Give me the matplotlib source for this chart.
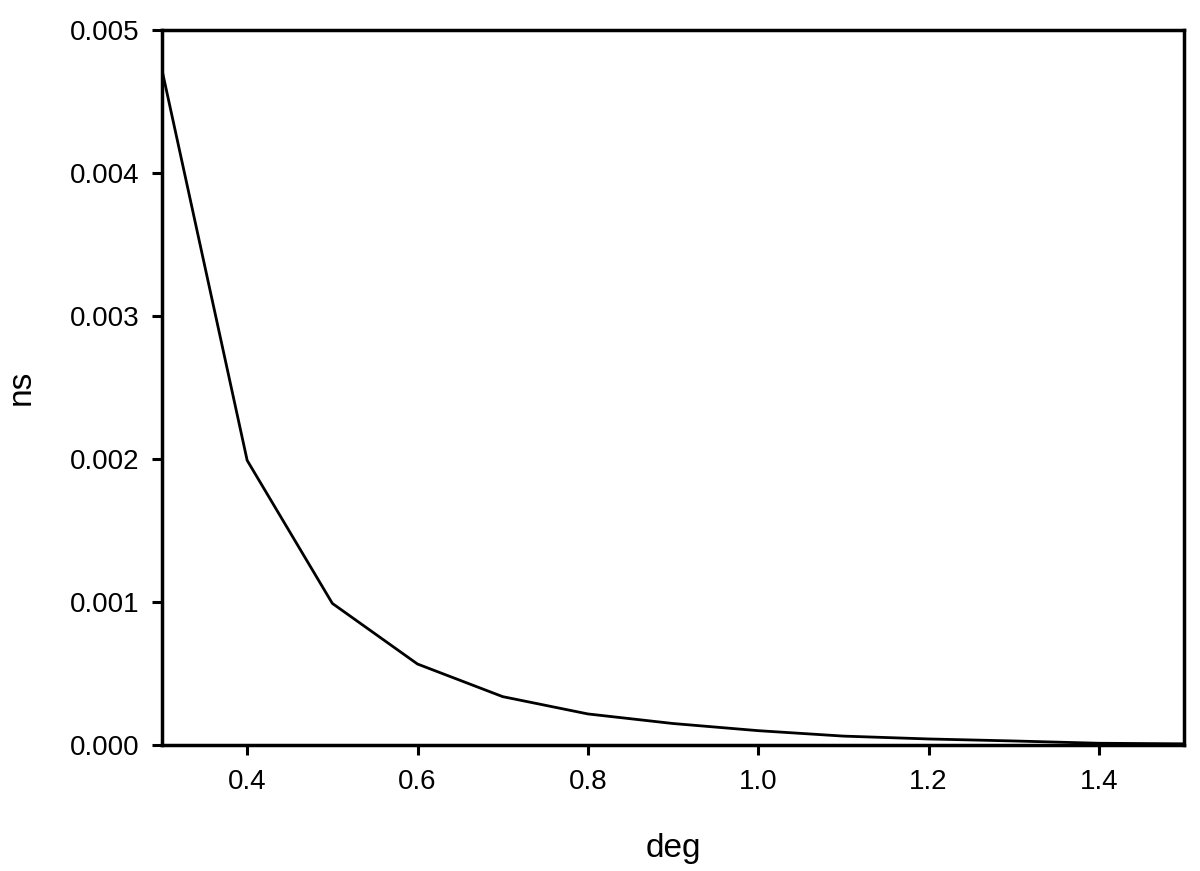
import matplotlib
matplotlib.use("Agg")
import matplotlib.pyplot as plt

# values
deg = [0.3, 0.4, 0.5, 0.6, 0.7, 0.8, 0.9, 1.0, 1.1, 1.2, 1.3, 1.4, 1.5]
ns = [0.00472, 0.00199, 0.00099, 0.000566, 0.000338, 0.000217, 0.000150,
      0.000100, 0.000062, 0.000042, 0.000028, 0.000012, 0.000008]

xticks = [0.4, 0.6, 0.8, 1.0, 1.2, 1.4]
yticks = [0.000, 0.001, 0.002, 0.003, 0.004, 0.005]

plt.rcParams['font.family'] = ['Liberation Sans', 'DejaVu Sans']

fig = plt.figure(figsize=(12, 8.71), dpi=100)
ax = fig.add_axes([0.135, 0.1447, 0.8517, 0.8209])

ax.plot(deg, ns, color='black', lw=2)

ax.set_xlim(0.3, 1.5)
ax.set_ylim(0, 0.005)
ax.set_xticks(xticks)
ax.set_xticklabels(['%.1f' % t for t in xticks])
ax.set_yticks(yticks)
ax.set_yticklabels(['%.3f' % t for t in yticks])

for s in ax.spines.values():
    s.set_linewidth(2.5)
ax.tick_params(direction='out', length=7, width=2.2, pad=9, labelsize=20)
ax.tick_params(axis='x', pad=10)

ax.set_xlabel('deg', fontsize=24, labelpad=28)
ax.set_ylabel('ns', fontsize=24, labelpad=24)

fig.savefig('out.png', dpi=100)
